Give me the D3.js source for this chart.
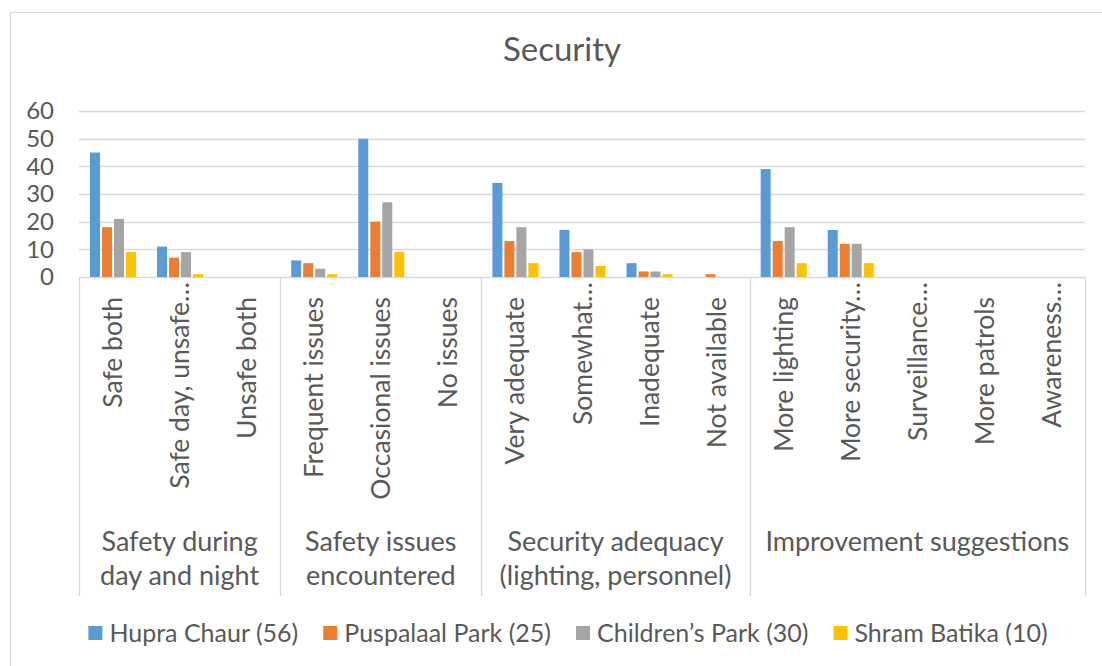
<!DOCTYPE html>
<html>
<head>
<meta charset="utf-8">
<script src="https://cdn.jsdelivr.net/npm/d3@7"></script>
<style>
  html, body { margin: 0; padding: 0; background: #fff; }
  svg { display: block; }
  text { font-family: Lato, "Noto Sans", sans-serif; fill: #595959; }
</style>
</head>
<body>
<svg id="chart" width="1102" height="666"></svg>
<script>
// Survey results on park security, four parks, counts of respondents
const groups = [
  { name: ["Safety during", "day and night"], size: 3 },
  { name: ["Safety issues", "encountered"], size: 3 },
  { name: ["Security adequacy", "(lighting, personnel)"], size: 4 },
  { name: ["Improvement suggestions"], size: 5 }
];
const categories = [
  "Safe both", "Safe day, unsafe…", "Unsafe both",
  "Frequent issues", "Occasional issues", "No issues",
  "Very adequate", "Somewhat…", "Inadequate", "Not available",
  "More lighting", "More security…", "Surveillance…", "More patrols", "Awareness…"
];
const seriesNames = ["Hupra Chaur (56)", "Puspalaal Park (25)", "Children’s Park (30)", "Shram Batika (10)"];
const hupraChaur    = [45, 11, 0, 6, 50, 0, 34, 17, 5, 0, 39, 17, 0, 0, 0];
const puspalaalPark = [18, 7, 0, 5, 20, 0, 13, 9, 2, 1, 13, 12, 0, 0, 0];
const childrensPark = [21, 9, 0, 3, 27, 0, 18, 10, 2, 0, 18, 12, 0, 0, 0];
const shramBatika   = [9, 1, 0, 1, 9, 0, 5, 4, 1, 0, 5, 5, 0, 0, 0];
const seriesValues = [hupraChaur, puspalaalPark, childrensPark, shramBatika];
const yTicks = [0, 10, 20, 30, 40, 50, 60];
const colors = ["#5B9BD5", "#ED7D31", "#A5A5A5", "#FFC000"];

const svg = d3.select("#chart");
const grid = "#d9d9d9";

// chart frame
svg.append("rect")
  .attr("x", 10.5).attr("y", 12.5)
  .attr("width", 1200).attr("height", 700)
  .attr("fill", "#fff").attr("stroke", grid).attr("stroke-width", 1);

// title
svg.append("text")
  .attr("x", 562).attr("y", 61)
  .attr("text-anchor", "middle")
  .style("font-size", "33px")
  .text("Security");

const plot = { left: 79, right: 1085, top: 111, bottom: 277 };

const x0 = d3.scaleBand()
  .domain(d3.range(categories.length))
  .range([plot.left, plot.right])
  .paddingInner(0).paddingOuter(0);

const x1 = d3.scaleBand()
  .domain(d3.range(seriesNames.length))
  .range([11, 57])
  .paddingInner(0.167).paddingOuter(0);

const y = d3.scaleLinear().domain([0, 60]).range([plot.bottom, plot.top]);

// gridlines
svg.append("g")
  .selectAll("line")
  .data(yTicks)
  .join("line")
  .attr("x1", plot.left).attr("x2", plot.right)
  .attr("y1", d => Math.round(y(d)) + 0.5).attr("y2", d => Math.round(y(d)) + 0.5)
  .attr("stroke", grid).attr("stroke-width", 1.3);

// y tick labels
const yAxis = d3.axisLeft(y).tickValues(yTicks).tickSize(0).tickPadding(0);
const ya = svg.append("g").attr("transform", `translate(54,0)`).call(yAxis);
ya.select(".domain").remove();
ya.selectAll("text")
  .style("font-size", "24px")
  .style("font-family", "Lato, 'Noto Sans', sans-serif")
  .attr("fill", "#595959");

// bars
const barG = svg.append("g");
categories.forEach((c, i) => {
  const g = barG.append("g").attr("transform", `translate(${x0(i)},0)`);
  g.selectAll("rect")
    .data(seriesValues.map((vals, s) => ({ s, v: vals[i] })))
    .join("rect")
    .attr("x", d => x1(d.s))
    .attr("width", x1.bandwidth())
    .attr("y", d => y(d.v))
    .attr("height", d => y(0) - y(d.v))
    .attr("fill", d => colors[d.s]);
});

// group separators in the category axis
let start = 0;
const bounds = [0];
groups.forEach(gr => { start += gr.size; bounds.push(start); });
svg.append("g")
  .selectAll("line")
  .data(bounds)
  .join("line")
  .attr("x1", d => Math.round(d === categories.length ? plot.right : x0(d)) + 0.5)
  .attr("x2", d => Math.round(d === categories.length ? plot.right : x0(d)) + 0.5)
  .attr("y1", plot.bottom).attr("y2", 596)
  .attr("stroke", grid).attr("stroke-width", 1.3);

// category labels, rotated
svg.append("g")
  .selectAll("text")
  .data(categories)
  .join("text")
  .attr("transform", (d, i) => {
    const cx = x0(i) + x0.bandwidth() / 2;
    const top = d.endsWith("…") ? 282 : 297;
    return `translate(${cx},${top}) rotate(-90)`;
  })
  .attr("text-anchor", "end")
  .attr("dy", "0.36em")
  .style("font-size", "26.5px")
  .text(d => d);

// group labels
groups.forEach((gr, gi) => {
  const a = x0(bounds[gi]);
  const b = bounds[gi + 1] === categories.length ? plot.right : x0(bounds[gi + 1]);
  const t = svg.append("text")
    .attr("x", (a + b) / 2).attr("y", 551)
    .attr("text-anchor", "middle")
    .style("font-size", "27px");
  gr.name.forEach((line, li) => {
    t.append("tspan")
      .attr("x", (a + b) / 2)
      .attr("dy", li === 0 ? 0 : 34)
      .text(line);
  });
});

// legend
const legend = svg.append("g");
const items = legend.selectAll("g").data(seriesNames).join("g");
items.append("rect")
  .attr("width", 14).attr("height", 14)
  .attr("y", 626)
  .attr("fill", (d, i) => colors[i]);
items.append("text")
  .attr("x", 21).attr("y", 642)
  .style("font-size", "25px")
  .text(d => d);
let lx = 0;
items.each(function () {
  const w = d3.select(this).select("text").node().getComputedTextLength();
  this.__x = lx;
  lx += 21 + w + 25;
});
const totalW = lx - 25;
const legendStart = 568 - totalW / 2;
items.attr("transform", function () { return `translate(${legendStart + this.__x},0)`; });
</script>
</body>
</html>
